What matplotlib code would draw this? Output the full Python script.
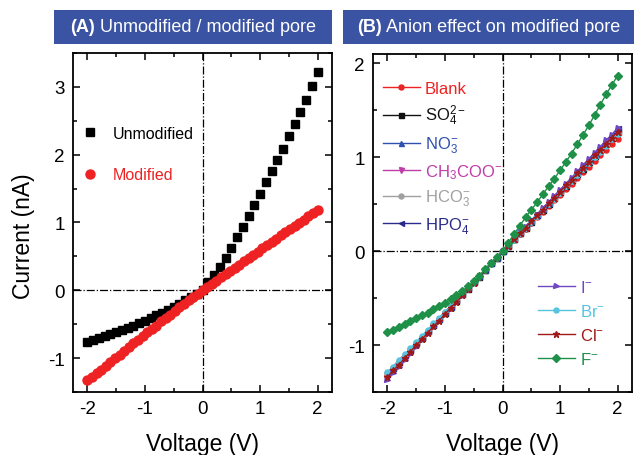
import numpy as np
import matplotlib
matplotlib.use("Agg")
import matplotlib.pyplot as plt
from matplotlib.patches import Rectangle
from matplotlib.lines import Line2D
from matplotlib.ticker import MultipleLocator, FuncFormatter

plt.rcParams['font.family'] = ['Liberation Sans', 'DejaVu Sans']
plt.rcParams['mathtext.fontset'] = 'custom'
plt.rcParams['mathtext.rm'] = 'Liberation Sans'
plt.rcParams['mathtext.it'] = 'Liberation Sans'

# ---- panel A data ----
volt_unmod = np.linspace(-2, 2, 41)
unmodified = [-0.76, -0.73, -0.70, -0.67, -0.64, -0.61, -0.58, -0.55, -0.52, -0.48,
              -0.45, -0.41, -0.37, -0.33, -0.29, -0.25, -0.20, -0.15, -0.10, -0.05,
              0.01, 0.12, 0.23, 0.35, 0.48, 0.63, 0.78, 0.94, 1.09, 1.26,
              1.42, 1.59, 1.76, 1.92, 2.09, 2.27, 2.45, 2.63, 2.81, 3.01, 3.22]

volt_mod = np.linspace(-2, 2, 51)
modified = [-1.33, -1.28, -1.22, -1.17, -1.11, -1.06, -1.00, -0.95, -0.89, -0.84,
            -0.78, -0.73, -0.67, -0.62, -0.57, -0.52, -0.46, -0.41, -0.36, -0.31,
            -0.25, -0.20, -0.15, -0.10, -0.05, 0.00,
            0.05, 0.10, 0.14, 0.19, 0.24, 0.29, 0.33, 0.38, 0.43, 0.48,
            0.52, 0.57, 0.62, 0.67, 0.71, 0.76, 0.81, 0.86, 0.90, 0.95,
            0.99, 1.04, 1.09, 1.14, 1.19]

# ---- panel B data ----
volt_b = np.linspace(-2, 2, 41)
blank = [-1.33, -1.26, -1.20, -1.13, -1.06, -1.00, -0.93, -0.86, -0.80, -0.73, -0.66,
         -0.60, -0.53, -0.46, -0.40, -0.33, -0.27, -0.20, -0.13, -0.07, 0.00,
         0.06, 0.12, 0.18, 0.24, 0.30, 0.36, 0.42, 0.48, 0.54, 0.60,
         0.66, 0.72, 0.78, 0.84, 0.90, 0.96, 1.02, 1.08, 1.14, 1.20]
so4 = [-1.31, -1.24, -1.18, -1.11, -1.05, -0.98, -0.92, -0.85, -0.79, -0.72, -0.66,
       -0.59, -0.53, -0.46, -0.40, -0.33, -0.27, -0.20, -0.13, -0.07, 0.00,
       0.06, 0.13, 0.19, 0.25, 0.31, 0.38, 0.44, 0.50, 0.57, 0.63,
       0.69, 0.76, 0.82, 0.88, 0.95, 1.01, 1.08, 1.14, 1.21, 1.27]
no3 = [-1.30, -1.24, -1.17, -1.11, -1.04, -0.98, -0.91, -0.85, -0.78, -0.72, -0.65,
       -0.59, -0.52, -0.46, -0.39, -0.33, -0.26, -0.20, -0.13, -0.07, 0.00,
       0.06, 0.13, 0.19, 0.26, 0.32, 0.38, 0.45, 0.51, 0.57, 0.64,
       0.70, 0.77, 0.83, 0.90, 0.96, 1.03, 1.09, 1.16, 1.22, 1.29]
ch3coo = [-1.32, -1.25, -1.19, -1.12, -1.05, -0.99, -0.92, -0.86, -0.79, -0.72, -0.66,
          -0.59, -0.53, -0.46, -0.40, -0.33, -0.26, -0.20, -0.13, -0.07, 0.00,
          0.06, 0.13, 0.19, 0.25, 0.32, 0.38, 0.44, 0.51, 0.57, 0.63,
          0.70, 0.76, 0.83, 0.89, 0.95, 1.02, 1.08, 1.15, 1.21, 1.28]
hco3 = [-1.30, -1.24, -1.17, -1.11, -1.04, -0.98, -0.91, -0.85, -0.78, -0.72, -0.65,
        -0.59, -0.52, -0.46, -0.39, -0.33, -0.26, -0.20, -0.13, -0.07, 0.00,
        0.06, 0.12, 0.19, 0.25, 0.31, 0.37, 0.44, 0.50, 0.56, 0.62,
        0.69, 0.75, 0.81, 0.88, 0.94, 1.00, 1.07, 1.13, 1.20, 1.26]
hpo4 = [-1.29, -1.23, -1.16, -1.10, -1.04, -0.97, -0.91, -0.84, -0.78, -0.71, -0.65,
        -0.58, -0.52, -0.45, -0.39, -0.32, -0.26, -0.19, -0.13, -0.06, 0.00,
        0.07, 0.13, 0.20, 0.26, 0.33, 0.39, 0.46, 0.52, 0.59, 0.65,
        0.72, 0.78, 0.85, 0.91, 0.98, 1.05, 1.11, 1.18, 1.24, 1.31]
iodide = [-1.37, -1.30, -1.23, -1.16, -1.09, -1.02, -0.95, -0.88, -0.81, -0.74, -0.67,
          -0.61, -0.54, -0.47, -0.40, -0.34, -0.27, -0.20, -0.13, -0.07, 0.00,
          0.07, 0.13, 0.20, 0.26, 0.33, 0.39, 0.46, 0.52, 0.59, 0.65,
          0.72, 0.78, 0.85, 0.92, 0.98, 1.05, 1.11, 1.18, 1.24, 1.31]
bromide = [-1.29, -1.23, -1.16, -1.10, -1.03, -0.97, -0.90, -0.84, -0.77, -0.71, -0.65,
           -0.58, -0.52, -0.45, -0.39, -0.32, -0.26, -0.19, -0.13, -0.06, 0.00,
           0.06, 0.12, 0.19, 0.25, 0.31, 0.37, 0.44, 0.50, 0.56, 0.62,
           0.69, 0.75, 0.81, 0.87, 0.94, 1.00, 1.06, 1.12, 1.19, 1.25]
chloride = [-1.34, -1.27, -1.21, -1.14, -1.07, -1.00, -0.94, -0.87, -0.80, -0.74, -0.67,
            -0.60, -0.54, -0.47, -0.40, -0.34, -0.27, -0.20, -0.13, -0.07, 0.00,
            0.06, 0.13, 0.19, 0.25, 0.32, 0.38, 0.44, 0.51, 0.57, 0.63,
            0.70, 0.76, 0.83, 0.89, 0.95, 1.02, 1.08, 1.14, 1.21, 1.27]
fluoride = [-0.865, -0.835, -0.805, -0.775, -0.745, -0.715, -0.685, -0.655, -0.62, -0.585,
            -0.55, -0.51, -0.47, -0.425, -0.375, -0.32, -0.26, -0.195, -0.13, -0.065, 0.00,
            0.09, 0.18, 0.27, 0.36, 0.44, 0.52, 0.605, 0.69, 0.77, 0.86,
            0.95, 1.04, 1.14, 1.24, 1.34, 1.45, 1.56, 1.67, 1.77, 1.87]

series_top = [
    ("Blank", blank, "#ee2222", "o"),
    ("SO$_4^{2-}$", so4, "#111111", "s"),
    ("NO$_3^{-}$", no3, "#3050b0", "^"),
    ("CH$_3$COO$^{-}$", ch3coo, "#c03ca8", "v"),
    ("HCO$_3^{-}$", hco3, "#a0a0a0", "o"),
    ("HPO$_4^{-}$", hpo4, "#2a2a8c", "<"),
]
series_bottom = [
    ("I$^{-}$", iodide, "#7048c0", ">"),
    ("Br$^{-}$", bromide, "#58c4e0", "o"),
    ("Cl$^{-}$", chloride, "#a01818", "*"),
    ("F$^{-}$", fluoride, "#1e9048", "D"),
]

W, H = 634, 456
fig = plt.figure(figsize=(W / 100, H / 100), dpi=100)

ax_a = fig.add_axes([73 / W, 1 - 393 / H, 259 / W, 339 / H])
ax_b = fig.add_axes([373 / W, 1 - 393 / H, 259 / W, 338 / H])

fmt = FuncFormatter(lambda v, p: "%g" % v)


def style_axes(ax, ylim):
    ax.set_xlim(-2.25, 2.25)
    ax.set_ylim(*ylim)
    ax.xaxis.set_major_locator(MultipleLocator(1))
    ax.xaxis.set_minor_locator(MultipleLocator(0.5))
    ax.yaxis.set_major_locator(MultipleLocator(1))
    ax.yaxis.set_minor_locator(MultipleLocator(0.5))
    ax.xaxis.set_major_formatter(fmt)
    ax.yaxis.set_major_formatter(fmt)
    ax.tick_params(which='both', direction='in', top=True, right=True, width=1.1)
    ax.tick_params(which='major', length=5, labelsize=13.5, pad=6)
    ax.tick_params(which='minor', length=3)
    for s in ax.spines.values():
        s.set_linewidth(1.3)
    ax.axhline(0, color='black', lw=0.9, ls='-.', zorder=1)
    ax.axvline(0, color='black', lw=0.9, ls='-.', zorder=1)
    ax.set_xlabel("Voltage (V)", fontsize=16.5)
    ax.xaxis.set_label_coords(0.5, -0.118)
    ax.xaxis.label.set_va('top')


style_axes(ax_a, (-1.5, 3.5))
style_axes(ax_b, (-1.5, 2.1))

ax_a.set_ylabel("Current (nA)", fontsize=16.5)
ax_a.yaxis.set_label_coords(-0.145, 0.463)

# panel A
ax_a.plot(volt_unmod, unmodified, ls='none', marker='s', ms=5.2, color='black', zorder=3)
ax_a.plot(volt_mod, modified, ls='none', marker='o', ms=6.5, color='#ee2222', zorder=3)
handles_a = [Line2D([], [], ls='none', marker='s', ms=5.2, color='black', label='Unmodified'),
             Line2D([], [], ls='none', marker='o', ms=6.5, color='#ee2222', label='Modified')]
ax_a.legend(handles=handles_a, loc='upper left', bbox_to_anchor=(0.035, 0.785),
            frameon=False, fontsize=11.5, labelcolor='linecolor', handlelength=1.0,
            handletextpad=0.9, labelspacing=1.66, borderpad=0, borderaxespad=0)

# panel B
for group in (series_top, series_bottom):
    for label, vals, col, mk in group:
        ax_b.plot(volt_b, vals, color=col, marker=mk, ms=3.6 if mk != '*' else 5,
                  lw=1.0, zorder=3)


def legend_handles(group):
    return [Line2D([], [], color=col, marker=mk, ms=3.6 if mk != '*' else 5, lw=1.0, label=label)
            for label, vals, col, mk in group]


leg1 = ax_b.legend(handles=legend_handles(series_top), loc='upper left',
                   bbox_to_anchor=(0.039, 0.92), frameon=False, fontsize=12,
                   labelcolor='linecolor', handlelength=2.2, handletextpad=0.3,
                   labelspacing=0.42, borderpad=0, borderaxespad=0)
ax_b.add_artist(leg1)
ax_b.legend(handles=legend_handles(series_bottom), loc='upper left',
            bbox_to_anchor=(0.637, 0.335), frameon=False, fontsize=12,
            labelcolor='linecolor', handlelength=2.2, handletextpad=0.3,
            labelspacing=0.49, borderpad=0, borderaxespad=0)

# title banners
box_col = '#3b53a3'
fig.patches.append(Rectangle((54 / W, 1 - 45 / H), 278 / W, 34 / H, transform=fig.transFigure,
                             facecolor=box_col, edgecolor='none'))
fig.patches.append(Rectangle((343 / W, 1 - 45 / H), 291 / W, 34 / H, transform=fig.transFigure,
                             facecolor=box_col, edgecolor='none'))

renderer = fig.canvas.get_renderer()


def banner_text(x0, x1, bold, rest):
    yc = 1 - 28 / H
    t1 = fig.text(0, yc, bold, color='white', fontsize=13, weight='bold', va='center')
    t2 = fig.text(0, yc, rest, color='white', fontsize=13, va='center')
    w1 = t1.get_window_extent(renderer).width
    w2 = t2.get_window_extent(renderer).width
    start = (x0 + x1) / 2 - (w1 + w2) / 2
    t1.set_x(start / W)
    t2.set_x((start + w1) / W)


banner_text(54, 332, "(A)", " Unmodified / modified pore")
banner_text(343, 634, "(B)", " Anion effect on modified pore")

fig.savefig("out.png", dpi=100)
